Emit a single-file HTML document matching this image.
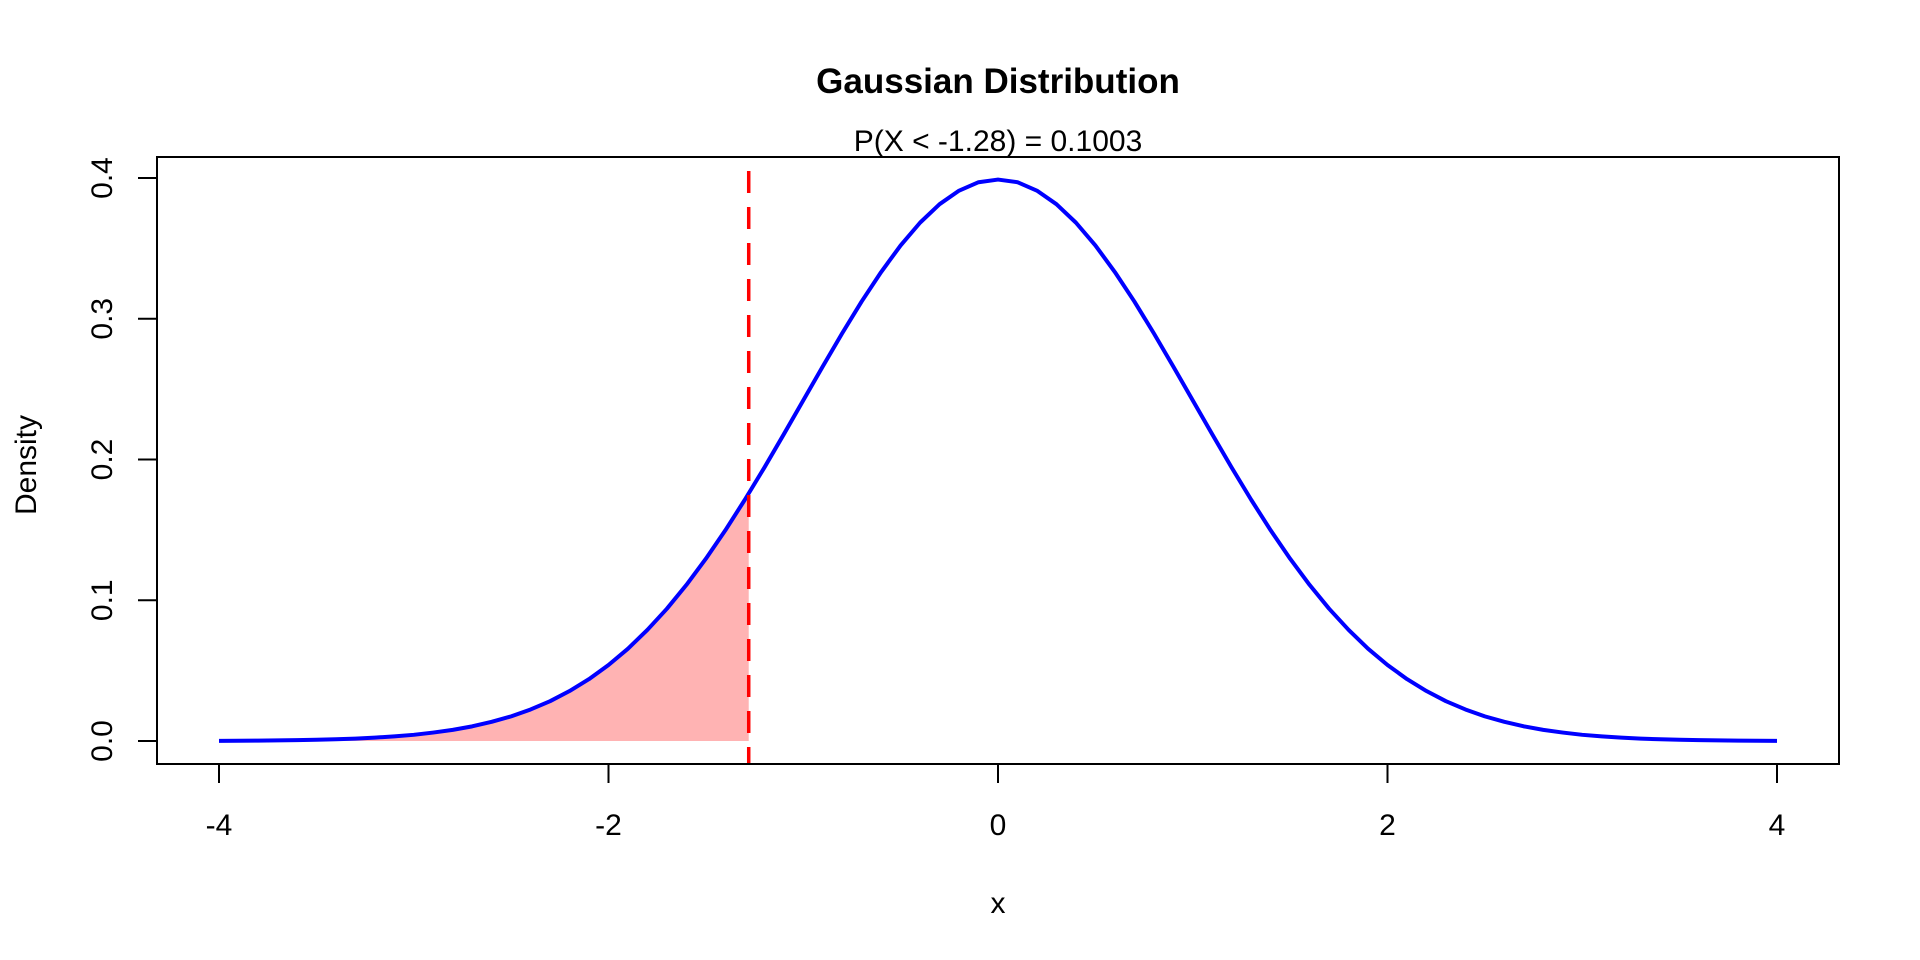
<!DOCTYPE html>
<html><head><meta charset="utf-8"><style>
html,body{margin:0;padding:0;background:#fff;}
svg{display:block;font-family:"Liberation Sans",Arial,sans-serif;}
</style></head><body>
<svg id="chart" width="1920" height="960" viewBox="0 0 1920 960" xmlns="http://www.w3.org/2000/svg">
<rect width="1920" height="960" fill="#fff"/>
<text x="998" y="93" text-anchor="middle" font-size="35" font-weight="bold">Gaussian Distribution</text>
<text x="998" y="151" text-anchor="middle" font-size="30">P(X &lt; -1.28) = 0.1003</text>
<text x="998" y="913" text-anchor="middle" font-size="30">x</text>
<text transform="translate(36,465) rotate(-90)" text-anchor="middle" font-size="30">Density</text>
<g id="marks"></g>
<g id="axes"></g>
<rect x="157" y="157" width="1682" height="607" fill="none" stroke="#000" stroke-width="2"/>
</svg>
<script>
const xValues = [-4,-3.9,-3.8,-3.7,-3.6,-3.5,-3.4,-3.3,-3.2,-3.1,-3,-2.9,-2.8,-2.7,-2.6,-2.5,-2.4,-2.3,-2.2,-2.1,-2,-1.9,-1.8,-1.7,-1.6,-1.5,-1.4,-1.3,-1.2,-1.1,-1,-0.9,-0.8,-0.7,-0.6,-0.5,-0.4,-0.3,-0.2,-0.1,0,0.1,0.2,0.3,0.4,0.5,0.6,0.7,0.8,0.9,1,1.1,1.2,1.3,1.4,1.5,1.6,1.7,1.8,1.9,2,2.1,2.2,2.3,2.4,2.5,2.6,2.7,2.8,2.9,3,3.1,3.2,3.3,3.4,3.5,3.6,3.7,3.8,3.9,4];
const densityValues = [0.0001,0.0002,0.0003,0.0004,0.0006,0.0009,0.0012,0.0017,0.0024,0.0033,0.0044,0.0060,0.0079,0.0104,0.0136,0.0175,0.0224,0.0283,0.0355,0.0440,0.0540,0.0656,0.0790,0.0940,0.1109,0.1295,0.1497,0.1714,0.1942,0.2179,0.2420,0.2661,0.2897,0.3123,0.3332,0.3521,0.3683,0.3814,0.3910,0.3970,0.3989,0.3970,0.3910,0.3814,0.3683,0.3521,0.3332,0.3123,0.2897,0.2661,0.2420,0.2179,0.1942,0.1714,0.1497,0.1295,0.1109,0.0940,0.0790,0.0656,0.0540,0.0440,0.0355,0.0283,0.0224,0.0175,0.0136,0.0104,0.0079,0.0060,0.0044,0.0033,0.0024,0.0017,0.0012,0.0009,0.0006,0.0004,0.0003,0.0002,0.0001];
const cutoff = -1.28;
const xTicks = [-4,-2,0,2,4];
const xTickLabels = ["-4","-2","0","2","4"];
const yTicks = [0,0.1,0.2,0.3,0.4];
const yTickLabels = ["0.0","0.1","0.2","0.3","0.4"];

const NS = "http://www.w3.org/2000/svg";
const sx = v => 998 + v * 194.75;
const sy = v => 741 - v * 1407.5;
function mk(tag, attrs, parent){const e=document.createElementNS(NS,tag);for(const k in attrs)e.setAttribute(k,attrs[k]);parent.appendChild(e);return e;}
const marks = document.getElementById('marks');
const axes = document.getElementById('axes');

let pts = [];
for (let i=0;i<xValues.length;i++){
  if (xValues[i] <= cutoff) pts.push([xValues[i], densityValues[i]]);
  else {
    const x0=xValues[i-1], y0=densityValues[i-1], x1=xValues[i], y1=densityValues[i];
    pts.push([cutoff, y0 + (y1-y0)*(cutoff-x0)/(x1-x0)]);
    break;
  }
}
let d = 'M' + sx(pts[0][0]) + ',' + sy(0);
pts.forEach(p => d += ' L' + sx(p[0]) + ',' + sy(p[1]));
d += ' L' + sx(cutoff) + ',' + sy(0) + ' Z';
const area = mk('path', {d: d, fill: '#FFB3B3', stroke: 'none'}, marks);



const line = mk('polyline', {points: xValues.map((x,i)=>sx(x)+','+sy(densityValues[i])).join(' '), fill:'none', stroke:'#0000FF', 'stroke-width':4, 'stroke-linejoin':'round'}, marks);



const cl = mk('line', {x1: sx(cutoff), x2: sx(cutoff), y1: 171, y2: 764, stroke:'#FF0000', 'stroke-width':3.5, 'stroke-dasharray':'22 14'}, marks);



xTicks.forEach((t,i)=>{
  const tk = mk('line', {x1:sx(t), x2:sx(t), y1:764, y2:783, stroke:'#000', 'stroke-width':2}, axes);
  
  
  const lb = mk('text', {x:sx(t), y:835, 'text-anchor':'middle', 'font-size':30}, axes);
  lb.textContent = xTickLabels[i];
  
  
});
yTicks.forEach((t,i)=>{
  const tk = mk('line', {x1:138, x2:157, y1:sy(t), y2:sy(t), stroke:'#000', 'stroke-width':2}, axes);
  
  
  const lb = mk('text', {transform:'translate(112,'+sy(t)+') rotate(-90)', 'text-anchor':'middle', 'font-size':30}, axes);
  lb.textContent = yTickLabels[i];
  
  
});
</script>
</body></html>
